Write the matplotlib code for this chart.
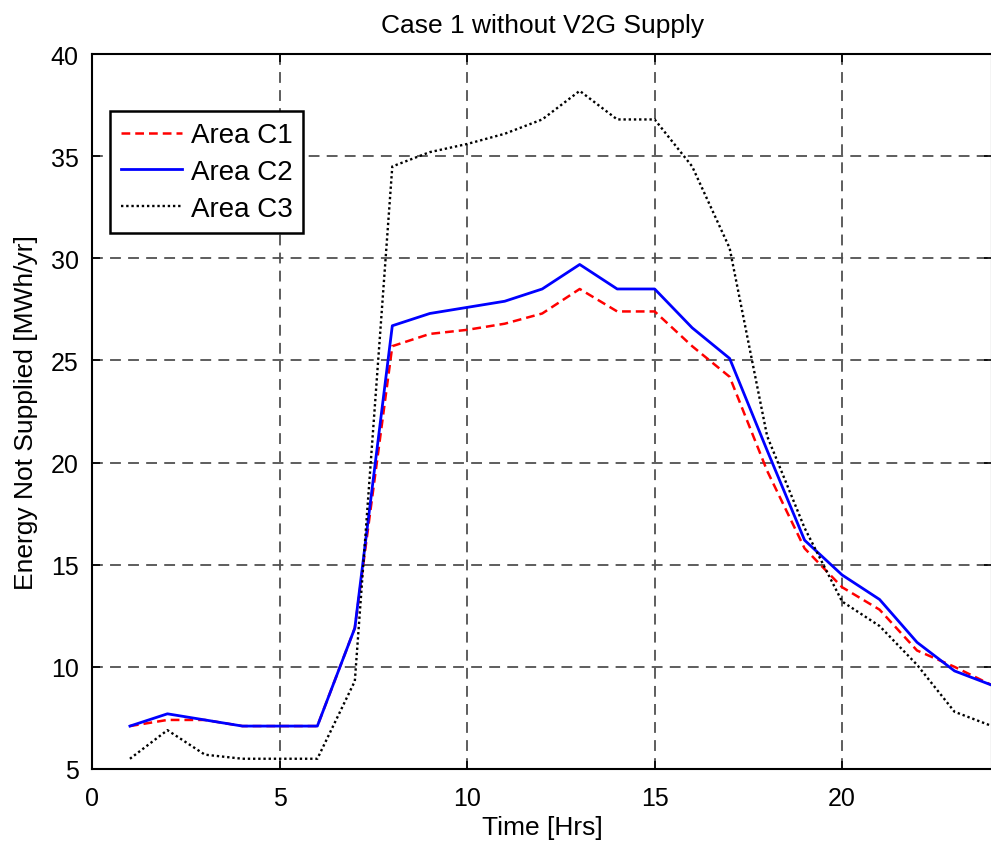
import matplotlib
matplotlib.use("Agg")
import matplotlib.pyplot as plt

plt.rcParams["font.family"] = ["Liberation Sans", "DejaVu Sans"]

hours = list(range(1, 25))
area_c1 = [7.1, 7.4, 7.4, 7.1, 7.1, 7.1, 11.9, 25.7, 26.3, 26.5, 26.8, 27.3,
           28.5, 27.4, 27.4, 25.7, 24.2, 19.6, 15.8, 13.9, 12.8, 10.8, 10.0, 9.1]
area_c2 = [7.1, 7.7, 7.4, 7.1, 7.1, 7.1, 11.9, 26.7, 27.3, 27.6, 27.9, 28.5,
           29.7, 28.5, 28.5, 26.6, 25.1, 20.6, 16.2, 14.5, 13.3, 11.2, 9.8, 9.1]
area_c3 = [5.5, 6.9, 5.7, 5.5, 5.5, 5.5, 9.3, 34.5, 35.2, 35.6, 36.1, 36.8,
           38.2, 36.8, 36.8, 34.5, 30.5, 21.3, 16.8, 13.2, 12.0, 10.1, 7.8, 7.1]

xticks = [0, 5, 10, 15, 20]
yticks = [5, 10, 15, 20, 25, 30, 35, 40]

fig = plt.figure(figsize=(9.91, 8.45), dpi=100)
ax = fig.add_axes([0.0933, 0.0888, 0.9077, 0.846])

ax.plot(hours, area_c1, color="red", linestyle=(0, (3.5, 2)), linewidth=1.8, label="Area C1")
ax.plot(hours, area_c2, color="blue", linestyle="-", linewidth=2.0, label="Area C2")
ax.plot(hours, area_c3, color="black", linestyle=(0, (1, 1.2)), linewidth=1.7, label="Area C3")

ax.set_xlim(0, 24)
ax.set_ylim(5, 40)
ax.set_xticks(xticks)
ax.set_yticks(yticks)
ax.grid(True, color="#505050", linestyle=(0, (6, 4)), linewidth=1.3)
ax.tick_params(direction="in", top=True, right=True, labelsize=18, length=6, width=1.2)
ax.tick_params(axis="y", pad=10)
ax.tick_params(axis="x", pad=12)
for s in ax.spines.values():
    s.set_linewidth(1.5)

ax.set_title("Case 1 without V2G Supply", fontsize=19, pad=16)
ax.set_xlabel("Time [Hrs]", fontsize=19, labelpad=4)
ax.set_ylabel("Energy Not Supplied [MWh/yr]", fontsize=19, labelpad=9)

leg = ax.legend(loc="upper left", bbox_to_anchor=(0.0195, 0.92), borderaxespad=0,
                fontsize=20, fancybox=False, framealpha=1, edgecolor="black",
                handlelength=2.2, handletextpad=0.3, labelspacing=0.38, borderpad=0.4)
leg.get_frame().set_linewidth(1.8)

fig.savefig("out.png", dpi=100)
